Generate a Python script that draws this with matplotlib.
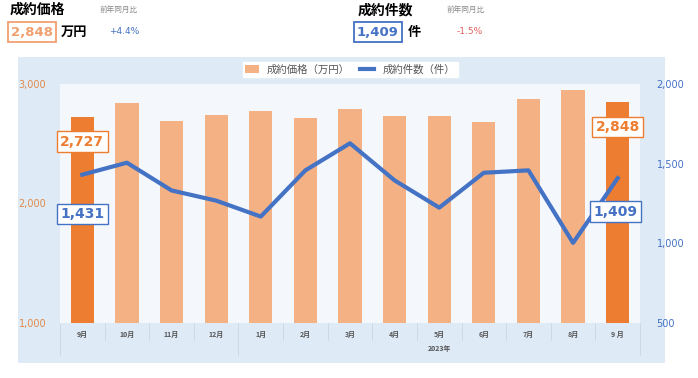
import matplotlib
matplotlib.use('Agg')
import matplotlib.pyplot as plt
from matplotlib.patches import Rectangle, Patch
from matplotlib.transforms import blended_transform_factory

plt.rcParams['font.family'] = ['Noto Sans CJK JP', 'DejaVu Sans']

months = ['9月', '10月', '11月', '12月', '1月', '2月', '3月', '4月', '5月', '6月', '7月', '8月', '9 月']
price = [2727, 2840, 2689, 2739, 2773, 2714, 2790, 2731, 2731, 2681, 2874, 2950, 2848]
count = [1431, 1506, 1332, 1268, 1168, 1458, 1628, 1395, 1224, 1443, 1458, 1003, 1409]
year_label = '2023年'
price_yoy = '+4.4%'
count_yoy = '-1.5%'

ORANGE = '#ED7D31'
LIGHT_ORANGE = '#F4B183'
BLUE = '#4472C4'
NUM = 'DejaVu Sans'
W, H = 698, 378

fig = plt.figure(figsize=(W / 100, H / 100), dpi=100)

def fx(px):
    return px / W

def fy(py):
    return 1 - py / H

# outer chart background
fig.patches.append(Rectangle((fx(18), fy(363)), fx(647), 306 / H, transform=fig.transFigure,
                             facecolor='#DEEAF6', edgecolor='none', zorder=-10))

ax = fig.add_axes([fx(60), fy(323), fx(580), 239 / H])
ax.set_facecolor('#F4F8FC')
x = list(range(len(months)))
colors = [ORANGE if i in (0, len(months) - 1) else LIGHT_ORANGE for i in x]
ax.bar(x, [p - 1000 for p in price], bottom=1000, width=0.52, color=colors, zorder=2)
ax.set_xlim(-0.5, len(months) - 0.5)
ax.set_ylim(1000, 3000)
ax.set_yticks([1000, 2000, 3000])
ax.set_yticklabels(['1,000', '2,000', '3,000'], color='#E08A4C', fontsize=7, family=NUM)
ax.set_xticks(x)
ax.set_xticklabels(months, fontsize=5, color='#555555', fontweight='bold')
ax.tick_params(axis='both', length=0)
ax.tick_params(axis='x', pad=6)
ax.tick_params(axis='y', pad=10)
for s in ax.spines.values():
    s.set_visible(False)

ax2 = ax.twinx()
line, = ax2.plot(x, count, color=BLUE, linewidth=3, zorder=3)
ax2.set_ylim(500, 2000)
ax2.set_yticks([500, 1000, 1500, 2000])
ax2.set_yticklabels(['500', '1,000', '1,500', '2,000'], color=BLUE, fontsize=7, family=NUM)
ax2.tick_params(axis='y', length=0, pad=12)
for s in ax2.spines.values():
    s.set_visible(False)

# category separators
tr = blended_transform_factory(ax.transData, ax.transAxes)
for i in range(len(months) + 1):
    xb = i - 0.5
    long_line = i in (0, 4, len(months))
    y_end = -0.135 if long_line else -0.07
    ax.plot([xb, xb], [0, y_end], color='#C9D6E4', linewidth=0.6, transform=tr, clip_on=False)
ax.text(8, -0.105, year_label, transform=tr, ha='center', va='center', fontsize=5,
        color='#555555', fontweight='bold')

# data labels
def label(axis, xi, yi, txt, col):
    axis.text(xi, yi, txt, ha='center', va='center', fontsize=10, fontweight='bold', color=col,
              family=NUM, zorder=5,
              bbox=dict(boxstyle='square,pad=0.25', facecolor='white', edgecolor=col, linewidth=1))

label(ax, 0, 2515, '2,727', ORANGE)
label(ax2, 0, 1184, '1,431', BLUE)
label(ax, 12, 2640, '2,848', ORANGE)
label(ax2, 11.95, 1198, '1,409', BLUE)

bar_handle = Patch(facecolor=LIGHT_ORANGE)
ax2.legend([bar_handle, line], ['成約価格（万円）', '成約件数（件）'], loc='upper center',
           bbox_to_anchor=(0.5, 1.115), ncol=2, fontsize=7.5, frameon=True, fancybox=False,
           edgecolor='white', facecolor='white', framealpha=1, handlelength=1.3,
           columnspacing=1.0, borderpad=0.25, labelcolor='#555555')

# header
fig.text(fx(10), fy(10), '成約価格', fontsize=10, fontweight='bold', va='center')
fig.text(fx(100), fy(10), '前年同月比', fontsize=5.5, color='#888888', va='center')
fig.text(fx(11), fy(32), '2,848', fontsize=9.5, fontweight='bold', color='#F0A070', va='center',
         family=NUM,
         bbox=dict(boxstyle='square,pad=0.25', facecolor='white', edgecolor='#F0A070', linewidth=1.3))
fig.text(fx(61), fy(32), '万円', fontsize=9.5, fontweight='bold', va='center')
fig.text(fx(109), fy(32), price_yoy, fontsize=6.5, color=BLUE, va='center', family=NUM)

fig.text(fx(358), fy(10), '成約件数', fontsize=10, fontweight='bold', va='center')
fig.text(fx(447), fy(10), '前年同月比', fontsize=5.5, color='#888888', va='center')
fig.text(fx(357), fy(32), '1,409', fontsize=9.5, fontweight='bold', color=BLUE, va='center',
         family=NUM,
         bbox=dict(boxstyle='square,pad=0.25', facecolor='white', edgecolor=BLUE, linewidth=1.3))
fig.text(fx(408), fy(32), '件', fontsize=9.5, fontweight='bold', va='center')
fig.text(fx(457), fy(32), count_yoy, fontsize=6.5, color='#E06060', va='center', family=NUM)

fig.savefig('out.png', dpi=100)
